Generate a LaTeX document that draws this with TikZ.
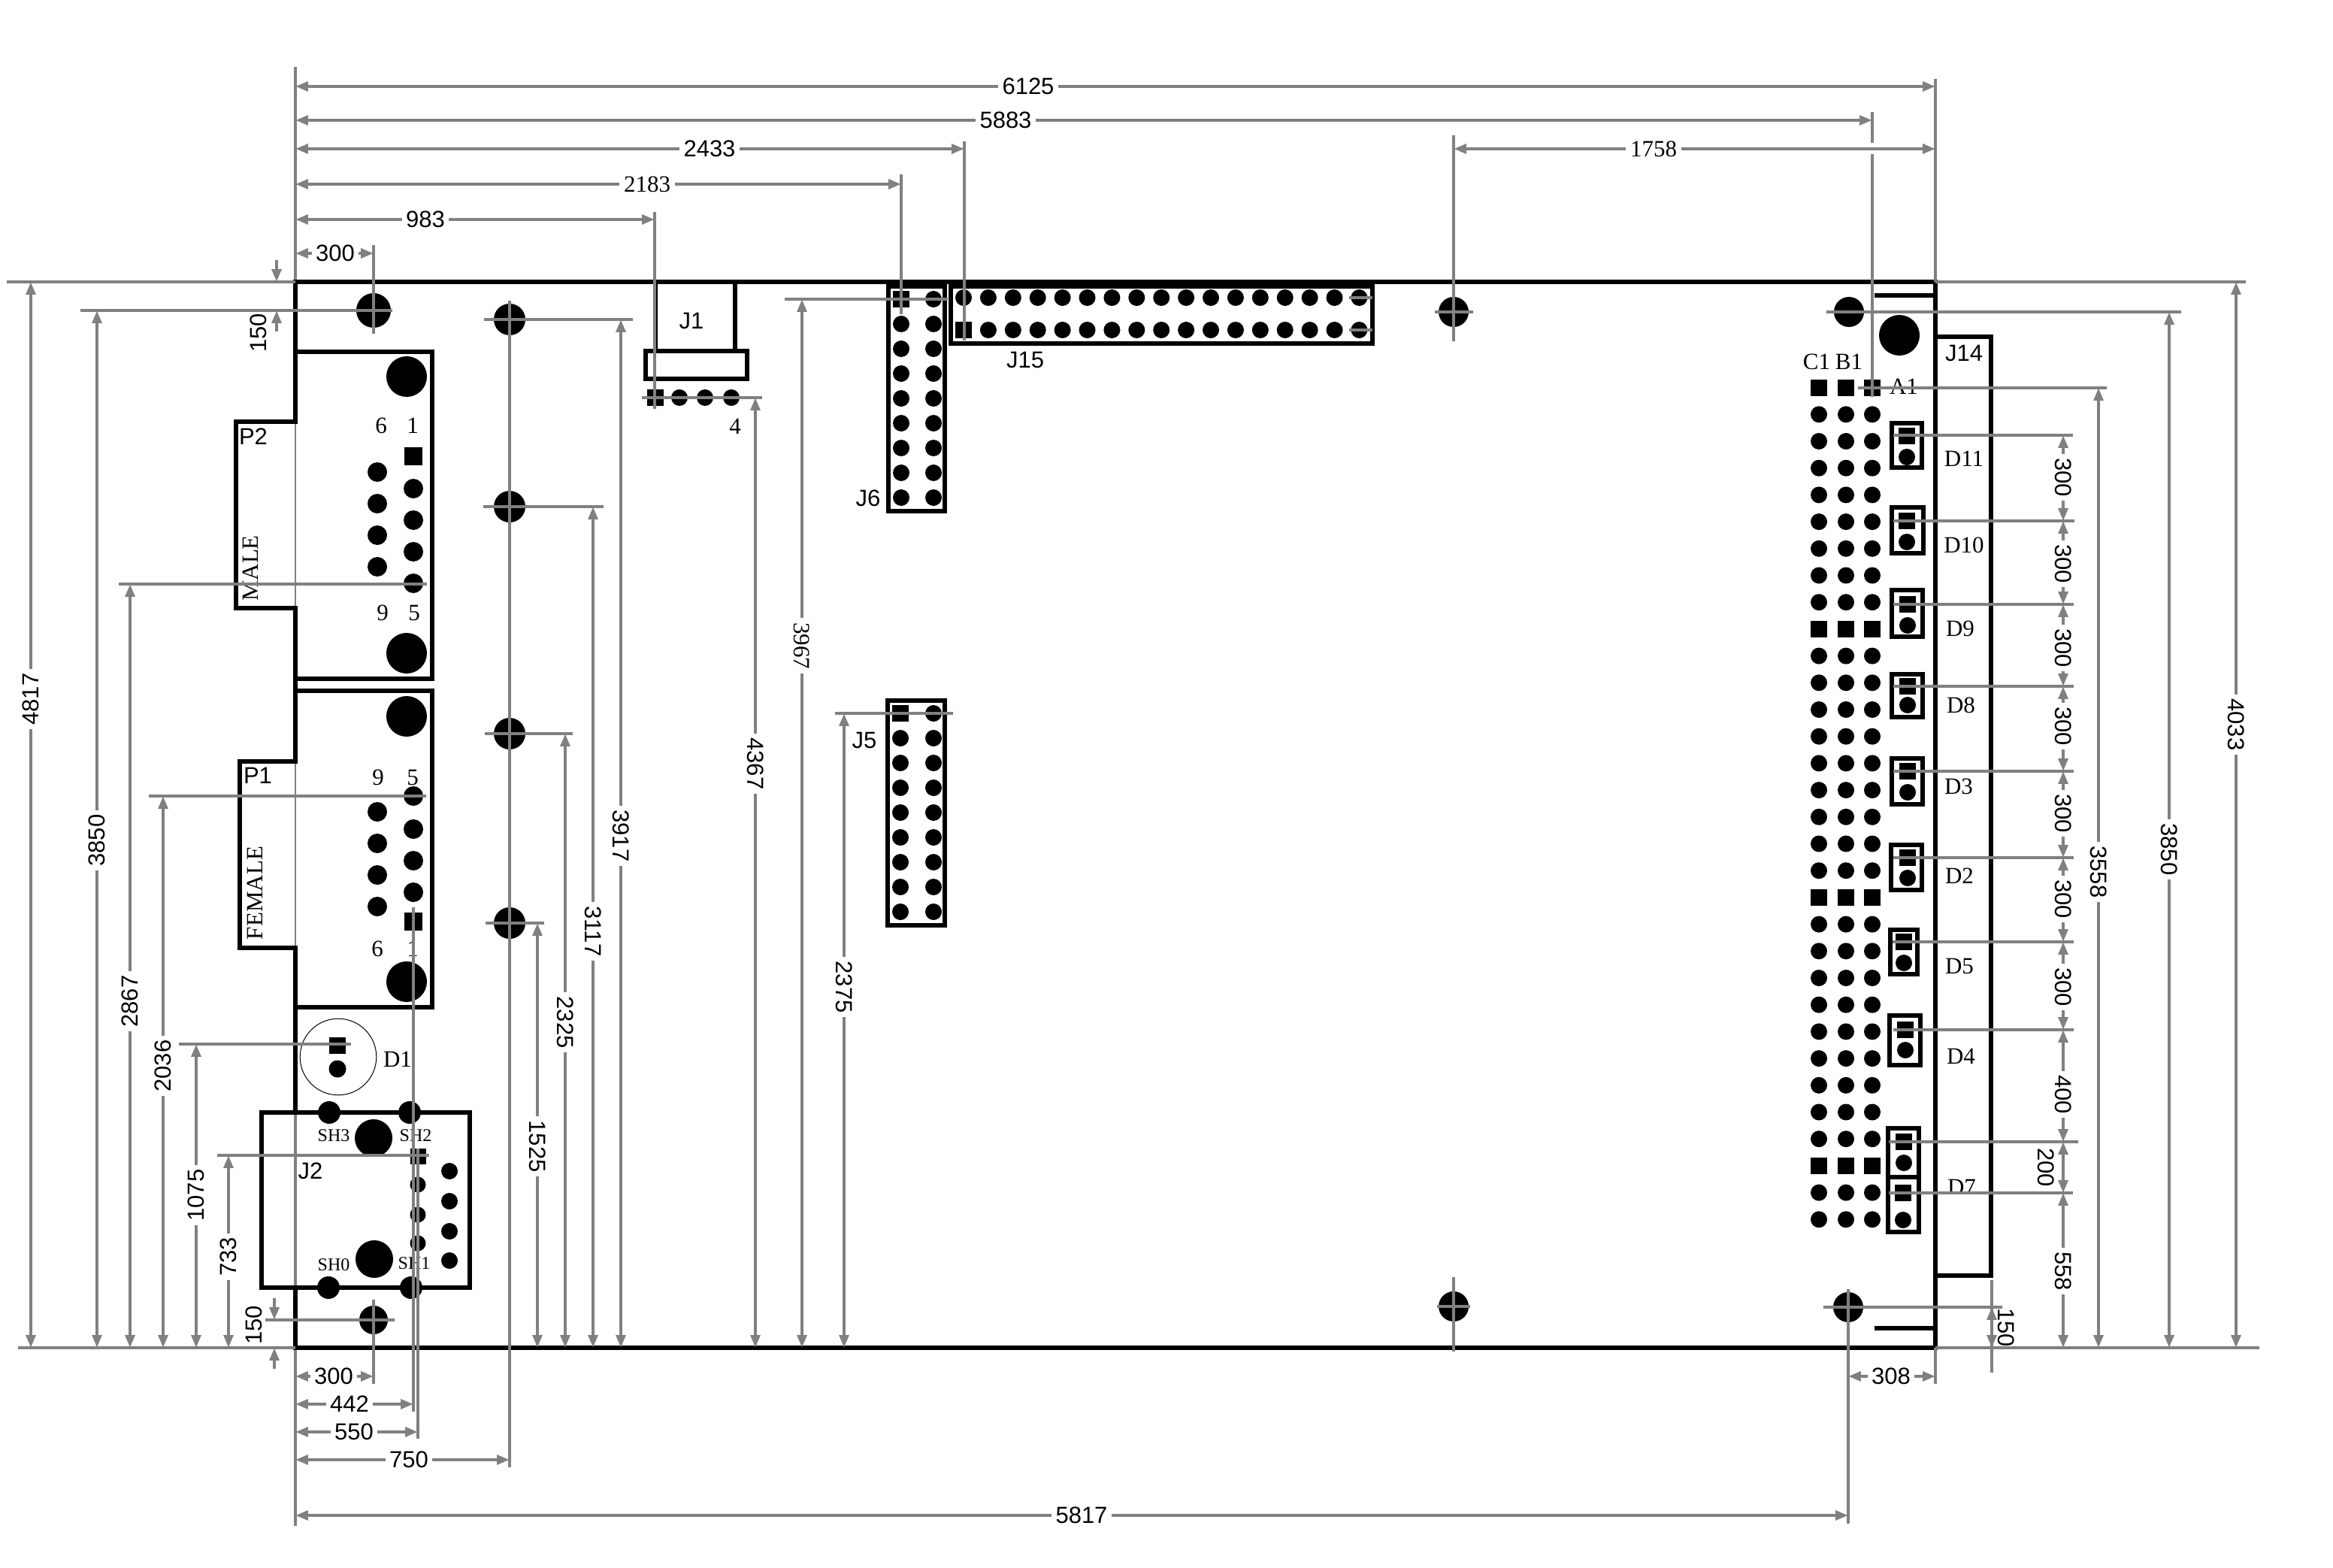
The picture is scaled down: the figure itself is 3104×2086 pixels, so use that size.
\documentclass[tikz,border=0pt]{standalone}
\usepackage{fontspec}
\setmainfont{Liberation Serif}
\setsansfont{Liberation Sans}
\usetikzlibrary{arrows.meta}
\definecolor{dimgray}{HTML}{808080}

\begin{document}
\begin{tikzpicture}[x=0.25pt,y=-0.25pt,>={Triangle[length=4.2pt,width=3.1pt]},
    board/.style={draw=black,line width=1.3pt},
    ext/.style={draw=dimgray,line width=1.15pt},
    dimline/.style={draw=dimgray,line width=1.15pt,<->},
    oneway/.style={draw=dimgray,line width=1.15pt,->},
    pin/.style={circle,fill=black,inner sep=0pt,minimum size=5.5pt},
    pinsq/.style={rectangle,fill=black,inner sep=0pt,minimum size=5.5pt},
    hole/.style={circle,fill=black,inner sep=0pt,minimum size=10.5pt},
    mount/.style={circle,fill=black,inner sep=0pt,minimum size=13.5pt},
    serif/.style={font=\rmfamily\fontsize{7.75}{9}\selectfont,inner sep=0pt},
    small/.style={font=\rmfamily\fontsize{6}{7}\selectfont,inner sep=0pt},
    sans/.style={font=\sffamily\fontsize{7.75}{9}\selectfont,inner sep=0pt},
    dimsans/.style={font=\sffamily\fontsize{7.75}{9}\selectfont,fill=white,inner sep=1.4pt},
    dimserif/.style={font=\rmfamily\fontsize{7.75}{9}\selectfont,fill=white,inner sep=1.4pt}]

    \useasboundingbox (0,0) rectangle (3104,2086);

    % left edge, seen through the connectors
    \draw[ext] (393,89) -- (393,561);
    \draw[ext] (393,1480) -- (393,2030);
    \draw[draw=dimgray,line width=0.65pt] (393,561) -- (393,809) (393,1013) -- (393,1261);

    % board outline
    \draw[board] (393,1480) -- (393,1261) -- (319,1261) -- (319,1013) -- (393,1013)
        -- (393,809) -- (314,809) -- (314,561) -- (393,561) -- (393,375)
        -- (2575,375) -- (2575,1793) -- (393,1793) -- (393,1713);
    \draw[board] (393,468) -- (575,468) -- (575,903) -- (393,903);
    \draw[board] (393,919) -- (575,919) -- (575,1340) -- (393,1340);
    \draw[board] (348,1480) rectangle (625,1713);
    \draw[board] (872,375) -- (872,467) (978,375) -- (978,467);
    \draw[board] (859,467) rectangle (994,504);
    \draw[board] (1182,381) rectangle (1257,680);
    \draw[board] (1181,932) rectangle (1257,1231);
    \draw[board] (1265,381) rectangle (1826,457);
    \draw[board] (2575,448) -- (2649,448) -- (2649,1697) -- (2575,1697);
    \draw[board] (2494,393) -- (2575,393) (2494,1767) -- (2575,1767);

    % mounting holes
    \node[hole,minimum size=11.5pt] (hTL) at (497,413) {};
    \node[hole,minimum size=9.5pt] (hBL) at (497,1756) {};
    \node[hole] (hA) at (678,425) {};
    \node[hole] (hB) at (678,674) {};
    \node[hole] (hC) at (678,976) {};
    \node[hole] (hD) at (678,1228) {};
    \node[hole,minimum size=10pt] (hE) at (1934,415) {};
    \node[hole,minimum size=10pt] (hF) at (1934,1738) {};
    \node[hole,minimum size=10pt] (hG) at (2460,415) {};
    \node[hole,minimum size=10pt] (hH) at (2459,1739) {};
    \node[mount] (hJ14) at (2527,446) {};
    \node[mount] (mP2a) at (541,501) {};
    \node[mount] (mP2b) at (541,869) {};
    \node[mount] (mP1a) at (541,953) {};
    \node[mount] (mP1b) at (541,1306) {};
    \node[mount,minimum size=12.5pt] (mJ2a) at (497,1514) {};
    \node[mount,minimum size=12.5pt] (mJ2b) at (498,1675) {};

    % P2
    \node[pinsq,minimum size=6pt] (P2s) at (550,607) {};
    \foreach \yy [count=\i] in {650,692,734,776}
        \node[pin,minimum size=6.5pt] (P2a\i) at (550,\yy) {};
    \foreach \yy [count=\i] in {628,670,712,754}
        \node[pin,minimum size=6.5pt] (P2b\i) at (502,\yy) {};
    % P1
    \node[pinsq,minimum size=6pt] (P1s) at (550,1226) {};
    \foreach \yy [count=\i] in {1059,1103,1145,1187}
        \node[pin,minimum size=6.5pt] (P1a\i) at (550,\yy) {};
    \foreach \yy [count=\i] in {1080,1122,1164,1206}
        \node[pin,minimum size=6.5pt] (P1b\i) at (502,\yy) {};

    % D1
    \node[circle,draw=black,line width=0.25pt,inner sep=0pt,minimum size=25.4pt] (ringD1) at (450,1406) {};
    \node[pinsq] (D1s) at (449,1391) {};
    \node[pin,minimum size=5.75pt] (D1c) at (449,1422) {};

    % J2
    \foreach \xx/\yy [count=\i] in {438/1480,545/1480,437/1713,547/1713}
        \node[pin,minimum size=7.5pt] (J2sh\i) at (\xx,\yy) {};
    \node[pinsq,minimum size=5.25pt] (J2s) at (556,1538) {};
    \foreach \yy [count=\i] in {1576,1616,1654}
        \node[pin,minimum size=5.25pt] (J2a\i) at (556,\yy) {};
    \foreach \yy [count=\i] in {1558,1598,1638,1677}
        \node[pin] (J2b\i) at (598,\yy) {};

    % J1
    \node[pinsq,minimum size=5.5pt] (J1s) at (872,529) {};
    \foreach \xx [count=\i] in {904,938,973}
        \node[pin] (J1p\i) at (\xx,529) {};

    % J6, J5
    \foreach \i in {0,...,8} {
        \ifnum\i=0
            \node[pinsq] (J6a\i) at (1199,398) {};
            \node[pinsq] (J5a\i) at (1198,949) {};
        \else
            \node[pin] (J6a\i) at (1199,398+33*\i) {};
            \node[pin] (J5a\i) at (1198,949+33*\i) {};
        \fi
        \node[pin] (J6b\i) at (1242,398+33*\i) {};
        \node[pin] (J5b\i) at (1242,949+33*\i) {};
    }

    % J15
    \foreach \i in {0,...,16} {
        \node[pin] (J15a\i) at (1282+32.9*\i,396) {};
        \ifnum\i=0
            \node[pinsq] (J15b\i) at (1282,439) {};
        \else
            \node[pin] (J15b\i) at (1282+32.9*\i,439) {};
        \fi
    }

    % J14 field
    \foreach \xx [count=\c] in {2420,2456,2491}
        \foreach \r in {0,...,31} {
            \ifnum\r=0 \def\kind{pinsq}\else\ifnum\r=9 \def\kind{pinsq}\else
            \ifnum\r=19 \def\kind{pinsq}\else\ifnum\r=29 \def\kind{pinsq}\else
            \def\kind{pin}\fi\fi\fi\fi
            \node[\kind] (Jf\c r\r) at (\xx,515.6+35.7*\r) {};
        }

    % jumpers
    \foreach \xa/\xb/\ya/\yb/\xp/\ys/\yc [count=\i] in {
        2517/2557/563/622/2537/580/608,
        2517/2559/675/736/2537/693/721,
        2517/2558/785/847/2538/804/832,
        2517/2558/897/954/2538/913/938,
        2517/2558/1009/1070/2538/1026/1054,
        2516/2557/1124/1184/2538/1141/1168,
        2515/2551/1237/1296/2533/1253/1281,
        2514/2555/1351/1417/2535/1370/1397,
        2512/2553/1501/1566/2533/1519/1547,
        2512/2553/1566/1639/2532/1587/1623} {
        \draw[board] (\xa,\ya) rectangle (\xb,\yb);
        \node[pinsq] (Dq\i) at (\xp,\ys) {};
        \node[pin] (Dc\i) at (\xp,\yc) {};
    }

    % board texts
    \node[sans] (tP2) at (337,581) {P2};
    \node[sans] (tP1) at (343,1032) {P1};
    \node[serif,rotate=90] (tMale) at (333,756) {MALE};
    \node[serif,rotate=90] (tFemale) at (339,1188) {FEMALE};
    \node[serif] (t6a) at (507,566) {6};
    \node[serif] (t1a) at (549,566) {1};
    \node[serif] (t9a) at (509,815) {9};
    \node[serif] (t5a) at (551,815) {5};
    \node[serif] (t9b) at (503,1034) {9};
    \node[serif] (t5b) at (549,1034) {5};
    \node[serif] (t6b) at (502,1262) {6};
    \node[serif] (t1b) at (549,1262) {1};
    \node[serif] (tD1) at (529,1409) {D1};
    \node[sans] (tJ2) at (413,1558) {J2};
    \node[small] (tSH3) at (444,1511) {SH3};
    \node[small] (tSH2) at (553,1511) {SH2};
    \node[small] (tSH0) at (444,1683) {SH0};
    \node[small] (tSH1) at (551,1681) {SH1};
    \node[sans] (tJ1) at (920,427) {J1};
    \node[serif] (t4) at (978,567) {4};
    \node[sans] (tJ6) at (1155,663) {J6};
    \node[sans] (tJ5) at (1150,985) {J5};
    \node[sans] (tJ15) at (1364,479) {J15};
    \node[sans] (tJ14) at (2613,470) {J14};
    \node[serif] (tC1) at (2417,481) {C1};
    \node[serif] (tB1) at (2460,481) {B1};
    \node[serif] (tA1) at (2533,514) {A1};
    \foreach \xx/\yy/\nm in {2613/610/D11,2613/725/D10,2608/836/D9,2609/938/D8,2606/1046/D3,
        2607/1165/D2,2607/1285/D5,2609/1405/D4,2610/1579/D7}
        \node[serif] (t\nm) at (\xx,\yy) {\nm};

    % extension lines, across
    \foreach \xa/\yy/\xb in {9/375/393, 24/1793/393, 2575/375/2988, 2575/1793/3006,
        107/413/522, 158/777/568, 198/1059/567, 238/1389/467, 289/1537/571, 353/1756/525,
        644/425/842, 643/674/803, 645/976/762, 646/1228/724, 854/529/1014, 1044/398/1261,
        1111/949/1268, 1795/396/1826, 1795/439/1826, 1909/415/1960, 1912/1738/1956,
        2430/415/2902, 2472/516/2803, 2426/1739/2664,
        2519/579/2758, 2519/693/2760, 2519/804/2759, 2519/913/2759, 2519/1026/2759,
        2519/1141/2759, 2518/1253/2759, 2519/1370/2759, 2513/1519/2765, 2513/1587/2758}
        \draw[ext] (\xa,\yy) -- (\xb,\yy);

    % extension lines, down
    \foreach \xx/\ya/\yb in {2575/105/375, 2575/1793/1841, 2491/149/190, 2491/205/528,
        1283/188/453, 1199/232/418, 871/282/544, 497/326/444, 1934/180/454, 497/1729/1841,
        550/1207/1878, 556/1528/1914, 678/400/1952, 2459/1715/2027, 1934/1699/1798, 2650/1703/1826}
        \draw[ext] (\xx,\ya) -- (\xx,\yb);

    % dimensions from the left edge
    \foreach \xe/\yy/\xl/\val in {2575/115/1368/6125, 2491/160/1338/5883, 1283/198/944/2433,
        871/292/566/983, 497/337/446/300, 497/1831/444/300, 550/1868/465/442,
        556/1905/471/550, 678/1942/544/750, 2459/2016/1439/5817} {
        \draw[dimline] (393,\yy) -- (\xe,\yy);
        \node[dimsans] (dim\val\yy) at (\xl,\yy) {\val};
    }
    \draw[dimline] (393,245) -- (1199,245);
    \node[dimserif] (dim2183) at (861,245) {2183};
    \draw[dimline] (1934,198) -- (2575,198);
    \node[dimserif] (dim1758) at (2200,198) {1758};
    \draw[dimline] (2459,1831) -- (2575,1831);
    \node[dimsans] (dim308) at (2516,1831) {308};

    % dimensions from the bottom, text upwards
    \foreach \xx/\yt/\yl/\val in {41/375/930/4817, 129/413/1118/3850, 173/777/1332/2867,
        217/1059/1418/2036, 261/1389/1590/1075, 304/1537/1672/733} {
        \draw[dimline] (\xx,1793) -- (\xx,\yt);
        \node[dimsans,rotate=90] (dim\val) at (\xx,\yl) {\val};
    }

    % dimensions from the bottom, text downwards
    \foreach \xx/\yt/\yl/\val in {826/425/1112/3917, 789/674/1239/3117, 752/976/1360/2325,
        715/1228/1525/1525, 1005/529/1016/4367, 1123/949/1313/2375,
        2792/516/1160/3558, 2886/415/1130/3850, 2975/375/964/4033} {
        \draw[dimline] (\xx,1793) -- (\xx,\yt);
        \node[dimsans,rotate=-90] (dim\val r) at (\xx,\yl) {\val};
    }
    \draw[dimline] (1067,1793) -- (1067,398);
    \node[dimserif,rotate=-90] (dim3967) at (1067,859) {3967};

    % jumper pitch
    \foreach \ya/\yb/\yl/\val in {579/693/635/300, 693/804/750/300, 804/913/862/300,
        913/1026/966/300, 1026/1141/1082/300, 1141/1253/1196/300, 1253/1370/1313/300,
        1370/1519/1456/400, 1587/1793/1691/558} {
        \draw[dimline] (2745,\ya) -- (2745,\yb);
        \node[dimsans,rotate=-90] (pitch\yl) at (2745,\yl) {\val};
    }
    \draw[dimline] (2745,1519) -- (2745,1587);
    \node[sans,rotate=-90] (dim200) at (2722,1553) {200};

    % the 150 offsets
    \draw[oneway] (368,346) -- (368,375);
    \draw[oneway] (368,441) -- (368,413);
    \node[sans,rotate=90] (dim150a) at (344,443) {150};
    \draw[oneway] (365,1727) -- (365,1756);
    \draw[oneway] (365,1821) -- (365,1793);
    \node[sans,rotate=90] (dim150b) at (338,1763) {150};
    \draw[dimline] (2650,1739) -- (2650,1793);
    \node[sans,rotate=-90] (dim150c) at (2669,1766) {150};
\end{tikzpicture}
\end{document}
